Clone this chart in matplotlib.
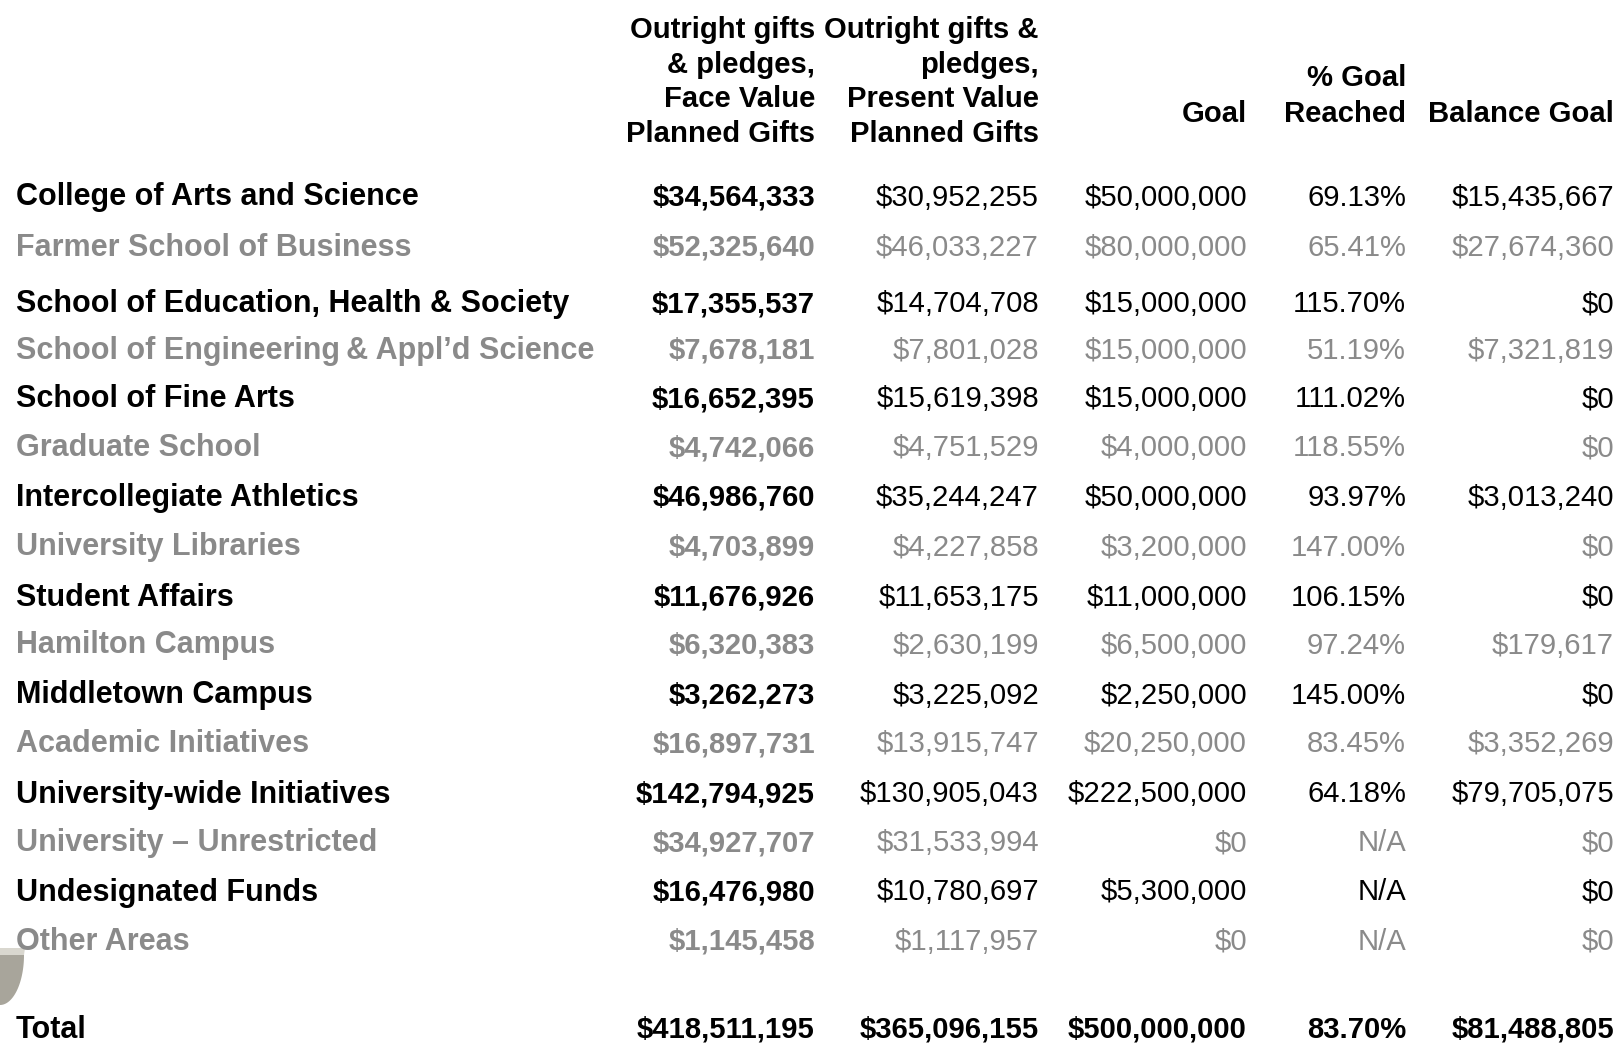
import matplotlib
matplotlib.use("Agg")
import matplotlib.pyplot as plt
import numpy as np
from matplotlib.patches import Polygon

plt.rcParams['font.family'] = ['Liberation Sans', 'DejaVu Sans']

W, H = 1619, 1043

categories = [
    "College of Arts and Science",
    "Farmer School of Business",
    "School of Education, Health & Society",
    "School of Engineering\u2009& Appl\u2019d Science",
    "School of Fine Arts",
    "Graduate School",
    "Intercollegiate Athletics",
    "University Libraries",
    "Student Affairs",
    "Hamilton Campus",
    "Middletown Campus",
    "Academic Initiatives",
    "University-wide Initiatives",
    "University \u2013 Unrestricted",
    "Undesignated Funds",
    "Other Areas",
]
face_value = [34564333, 52325640, 17355537, 7678181, 16652395, 4742066, 46986760,
              4703899, 11676926, 6320383, 3262273, 16897731, 142794925, 34927707,
              16476980, 1145458]
present_value = [30952255, 46033227, 14704708, 7801028, 15619398, 4751529, 35244247,
                 4227858, 11653175, 2630199, 3225092, 13915747, 130905043, 31533994,
                 10780697, 1117957]
goal = [50000000, 80000000, 15000000, 15000000, 15000000, 4000000, 50000000,
        3200000, 11000000, 6500000, 2250000, 20250000, 222500000, 0, 5300000, 0]
pct_reached = ["69.13%", "65.41%", "115.70%", "51.19%", "111.02%", "118.55%", "93.97%",
               "147.00%", "106.15%", "97.24%", "145.00%", "83.45%", "64.18%", "N/A",
               "N/A", "N/A"]
balance = [15435667, 27674360, 0, 7321819, 0, 0, 3013240, 0, 0, 179617, 0, 3352269,
           79705075, 0, 0, 0]
total_row = ["Total", "$418,511,195", "$365,096,155", "$500,000,000", "83.70%", "$81,488,805"]

headers = [
    ["Outright gifts", "& pledges,", "Face Value", "Planned Gifts"],
    ["Outright gifts &", "pledges,", "Present Value", "Planned Gifts"],
    ["Goal"],
    ["% Goal", "Reached"],
    ["Balance Goal"],
]

def money(v):
    return "${:,}".format(v)

fig = plt.figure(figsize=(W / 100, H / 100), dpi=100)
fig.patch.set_facecolor("white")

def T(x, y, s, size=21.1, **kw):
    fig.text(x / W, 1 - y / H, s, fontsize=size, va="baseline", **kw)

col_right = [815, 1039, 1247, 1406, 1614]
label_x = 15.5
grey = "#8a8a8a"
label_size = 22.0

# headers (baselines)
line_base = [38, 73, 107, 142]
short_base = [86, 121.5]
for ci, lines in enumerate(headers):
    n = len(lines)
    bases = line_base if n == 4 else short_base[2 - n:]
    for ln, b in zip(lines, bases):
        T(col_right[ci], b, ln, ha="right", fontweight="bold", color="black")

row_centers = [195, 245, 301.5, 348, 396.5, 446, 495.5, 545, 595, 643, 693, 742,
               792, 840.5, 890, 939.5]
for i, cat in enumerate(categories):
    col = "black" if i % 2 == 0 else grey
    b = row_centers[i] + 10.5
    T(label_x, b, cat, size=label_size, ha="left", fontweight="bold", color=col)
    vals = [money(face_value[i]), money(present_value[i]), money(goal[i]),
            pct_reached[i], money(balance[i])]
    for ci, v in enumerate(vals):
        T(col_right[ci], b, v, ha="right", color=col,
          fontweight="bold" if ci == 0 else "normal")

tb = 1027 + 10.5
T(label_x, tb, total_row[0], size=label_size, ha="left", fontweight="bold", color="black")
for ci, v in enumerate(total_row[1:]):
    T(col_right[ci], tb, v, ha="right", fontweight="bold", color="black")

# decorative shape bottom-left
t = np.linspace(0, np.pi / 2, 60)
rx, ry = 24, 50
xs = rx * np.cos(t)
ys = 955 + ry * np.sin(t)
body = np.column_stack([np.concatenate([[0], xs]), np.concatenate([[955], ys])])
body = np.column_stack([body[:, 0] / W, 1 - body[:, 1] / H])
fig.patches.append(Polygon(body, closed=True, transform=fig.transFigure,
                           facecolor="#a8a59b", edgecolor="none", zorder=0))
band = np.array([[0, 948], [25, 948], [24, 955], [0, 955]], dtype=float)
band = np.column_stack([band[:, 0] / W, 1 - band[:, 1] / H])
fig.patches.append(Polygon(band, closed=True, transform=fig.transFigure,
                           facecolor="#d9d7cf", edgecolor="none", zorder=0))

fig.savefig("out.png", dpi=100, facecolor="white")
